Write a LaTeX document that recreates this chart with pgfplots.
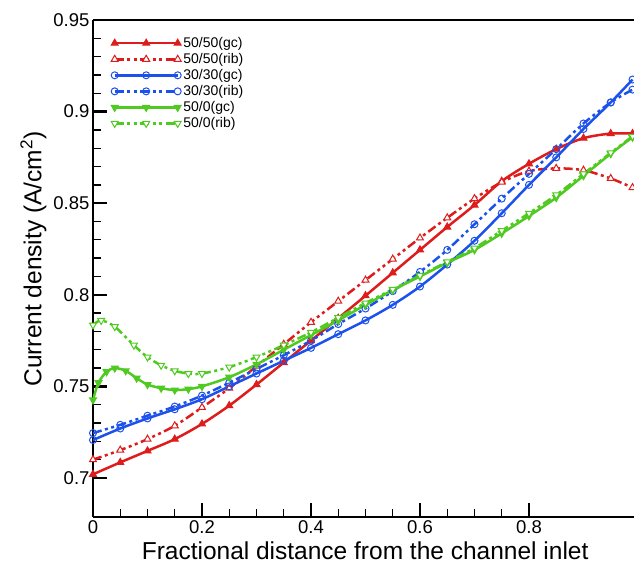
\documentclass[border=0pt]{standalone}
\usepackage{fontspec}
\setmainfont{Liberation Sans}
\usepackage{pgfplots}
\usepackage{pgfplotstable}
\pgfplotsset{compat=1.18}
\definecolor{cred}{RGB}{222,28,28}
\definecolor{cblue}{RGB}{28,82,235}
\definecolor{cgreen}{RGB}{78,202,32}

\pgfplotstableread{
x y
0 0.702
0.05 0.7085
0.1 0.7148
0.15 0.7212
0.2 0.7295
0.25 0.7395
0.3 0.751
0.35 0.763
0.4 0.775
0.45 0.7872
0.5 0.7995
0.55 0.812
0.6 0.8245
0.65 0.837
0.7 0.849
0.75 0.862
0.8 0.8715
0.85 0.8795
0.9 0.8855
0.95 0.888
0.99 0.888
}\redgc
\pgfplotstableread{
x y
0 0.710
0.05 0.7152
0.1 0.7212
0.15 0.7285
0.2 0.7385
0.25 0.749
0.3 0.761
0.35 0.773
0.4 0.785
0.45 0.7965
0.5 0.808
0.55 0.8195
0.6 0.831
0.65 0.842
0.7 0.8525
0.75 0.8615
0.8 0.8675
0.85 0.869
0.9 0.868
0.95 0.8635
0.99 0.8585
}\redrib
\pgfplotstableread{
x y
0 0.7207
0.05 0.727
0.1 0.7325
0.15 0.7375
0.2 0.743
0.25 0.750
0.3 0.757
0.35 0.764
0.4 0.771
0.45 0.7785
0.5 0.786
0.55 0.7945
0.6 0.8045
0.65 0.8165
0.7 0.8295
0.75 0.8445
0.8 0.860
0.85 0.875
0.9 0.8905
0.95 0.905
0.99 0.9175
}\bluegc
\pgfplotstableread{
x y
0 0.7245
0.05 0.729
0.1 0.734
0.15 0.739
0.2 0.745
0.25 0.752
0.3 0.7595
0.35 0.767
0.4 0.775
0.45 0.784
0.5 0.7925
0.55 0.802
0.6 0.8125
0.65 0.8245
0.7 0.8385
0.75 0.8525
0.8 0.866
0.85 0.8795
0.9 0.8935
0.95 0.905
0.99 0.912
}\bluerib
\pgfplotstableread{
x y
0 0.7426
0.01 0.752
0.025 0.758
0.04 0.760
0.06 0.7585
0.08 0.7545
0.1 0.751
0.125 0.749
0.15 0.748
0.175 0.7485
0.2 0.750
0.25 0.755
0.3 0.762
0.35 0.770
0.4 0.778
0.45 0.786
0.5 0.7945
0.55 0.8025
0.6 0.810
0.65 0.8175
0.7 0.8245
0.75 0.8335
0.8 0.843
0.85 0.853
0.9 0.865
0.95 0.877
0.99 0.886
}\greengc
\pgfplotstableread{
x y
0 0.7835
0.015 0.786
0.04 0.7826
0.075 0.7725
0.1 0.766
0.125 0.7615
0.15 0.7585
0.175 0.757
0.2 0.757
0.25 0.7605
0.3 0.766
0.35 0.7725
0.4 0.7795
0.45 0.7875
0.5 0.7955
0.55 0.803
0.6 0.8105
0.65 0.818
0.7 0.8255
0.75 0.835
0.8 0.8445
0.85 0.8545
0.9 0.866
0.95 0.8775
0.99 0.8865
}\greenrib

\begin{document}
\begin{tikzpicture}
\begin{axis}[
  scale only axis, width=541pt, height=497pt,
  xmin=0, xmax=0.9927, ymin=0.6787, ymax=0.95,
  axis y line*=left,
  axis line style={line width=2.5pt},
  xtick={0,0.2,0.4,0.6,0.8}, minor x tick num=3,
  ytick={0.7,0.75,0.8,0.85,0.9,0.95}, minor y tick num=4,
  xtick pos=left, ytick pos=left,
  tick align=inside,
  major tick length=14pt, minor tick length=8pt,
  major tick style={line width=2.5pt, black},
  minor tick style={line width=1.3pt, black},
  /pgf/number format/assume math mode=true,
  ticklabel style={font=\fontsize{18.5}{20}\selectfont},
  xlabel={Fractional distance from the channel inlet},
  ylabel={Current density (A/cm\textsuperscript{2})},
  xlabel style={font=\fontsize{24.5}{26}\selectfont, at={(axis description cs:0.503,-0.050)}, anchor=north, inner sep=0pt},
  ylabel style={font=\fontsize{24.5}{26}\selectfont, at={(axis description cs:-0.0856,0.519)}, anchor=south, inner sep=0pt},
  legend image code/.code={\draw[#1] plot coordinates {(0pt,0pt) (31.5pt,0pt) (63pt,0pt)};},
  legend style={draw=none, fill=none, at={(0,1)}, anchor=north west, xshift=18pt, yshift=-15pt,
    font=\fontsize{14}{14}\selectfont, inner sep=0pt, row sep=0pt, column sep=0pt,
    nodes={inner sep=2.2pt}},
  legend cell align=left,
  every axis plot/.append style={line width=2.5pt},
]
\coordinate (LL) at (rel axis cs:0,0);
\coordinate (UR) at (rel axis cs:1,1);
\addplot[cred, smooth, mark=triangle*, mark size=4pt, mark options={solid, fill=cred, line width=1pt}] table {\redgc};
\addlegendentry{50/50(gc)}
\addplot[cred, smooth, dash pattern=on 9pt off 3.5pt on 3pt off 3.5pt on 3pt off 3.5pt, mark=triangle*, mark size=4pt, mark options={solid, fill=white, line width=1pt}] table {\redrib};
\addlegendentry{50/50(rib)}
\addplot[cblue, smooth, mark=o, mark size=3.5pt, mark options={solid, line width=1pt}] table {\bluegc};
\addlegendentry{30/30(gc)}
\addplot[cblue, smooth, dash pattern=on 9pt off 3.5pt on 3pt off 3.5pt on 3pt off 3.5pt, mark=o, mark size=3.5pt, mark options={solid, line width=1pt}] table {\bluerib};
\addlegendentry{30/30(rib)}
\addplot[cgreen, smooth, mark=triangle*, mark size=4pt, mark options={solid, rotate=180, fill=cgreen, line width=1pt}] table {\greengc};
\addlegendentry{50/0(gc)}
\addplot[cgreen, smooth, dash pattern=on 9pt off 3.5pt on 3pt off 3.5pt on 3pt off 3.5pt, mark=triangle*, mark size=4pt, mark options={solid, rotate=180, fill=white, line width=1pt}] table {\greenrib};
\addlegendentry{50/0(rib)}
\end{axis}
\pgfresetboundingbox
\path[use as bounding box] ([shift={(-93pt,-49pt)}]LL) rectangle ([shift={(0pt,20pt)}]UR);
\end{tikzpicture}
\end{document}
